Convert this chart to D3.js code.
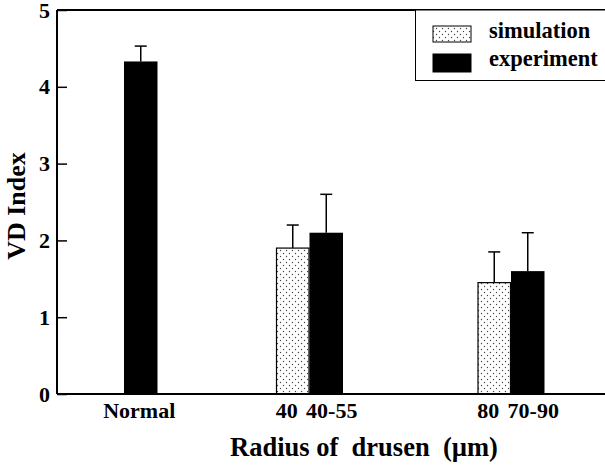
<!DOCTYPE html>
<html>
<head>
<meta charset="utf-8">
<script src="https://cdn.jsdelivr.net/npm/d3@7"></script>
<style>
  html, body { margin: 0; padding: 0; background: #fff; }
  svg { display: block; font-family: "Liberation Serif", "Times New Roman", serif; font-weight: bold; }
</style>
</head>
<body>
<svg id="chart" width="605" height="466"></svg>
<script>
// ---- data ----
const categories = ["Normal", "40", "80"];
const simLabels = ["", "40", "80"];
const expLabels = ["Normal", "40-55", "70-90"];
const series = ["simulation", "experiment"];
const simValues = [null, 1.9, 1.45];
const simErrors = [null, 0.3, 0.4];
const expValues = [4.33, 2.1, 1.6];
const expErrors = [0.2, 0.5, 0.5];
const yTicks = [0, 1, 2, 3, 4, 5];
const xTitle = "Radius of  drusen  (\u00b5m)";
const yTitle = "VD Index";

// ---- layout ----
const plot = { left: 57, top: 10, right: 640, bottom: 394 };
const svg = d3.select("#chart");

const defs = svg.append("defs");
const pat = defs.append("pattern").attr("id", "dots")
  .attr("patternUnits", "userSpaceOnUse").attr("width", 6).attr("height", 6);
pat.append("rect").attr("width", 6).attr("height", 6).attr("fill", "#fff");
pat.append("circle").attr("cx", 1.5).attr("cy", 1.5).attr("r", 0.7).attr("fill", "#444");
pat.append("circle").attr("cx", 4.5).attr("cy", 4.5).attr("r", 0.7).attr("fill", "#444");

const y = d3.scaleLinear().domain([0, 5]).range([plot.bottom, plot.top]);
// piecewise category position scale (group centre = boundary between the two bars)
const xi = d3.scaleLinear().domain([0, 1, 2]).range([124, 309.5, 511]);
const x = c => xi(categories.indexOf(c));
const barW = 33.5;
const xs = d3.scaleBand().domain(series).range([-barW, barW]);

const rows = categories.map((c, i) => ({
  cat: c, sim: simValues[i], simErr: simErrors[i], exp: expValues[i], expErr: expErrors[i],
  simLabel: simLabels[i], expLabel: expLabels[i]
}));

// bars
const g = svg.append("g");
rows.forEach(r => {
  if (r.sim != null) {
    g.append("rect")
      .attr("x", x(r.cat) + xs("simulation") + 0.5)
      .attr("y", y(r.sim))
      .attr("width", xs.bandwidth() - 1)
      .attr("height", y(0) - y(r.sim))
      .attr("fill", "url(#dots)").attr("stroke", "#000").attr("stroke-width", 1.2);
  }
  g.append("rect")
    .attr("x", x(r.cat) + xs("experiment"))
    .attr("y", y(r.exp))
    .attr("width", xs.bandwidth())
    .attr("height", y(0) - y(r.exp))
    .attr("fill", "#000");
});

// error bars
function errBar(cx, v, e) {
  g.append("line").attr("x1", cx).attr("x2", cx).attr("y1", y(v)).attr("y2", y(v + e))
    .attr("stroke", "#000").attr("stroke-width", 1.5);
  g.append("line").attr("x1", cx - 6).attr("x2", cx + 6).attr("y1", y(v + e)).attr("y2", y(v + e))
    .attr("stroke", "#000").attr("stroke-width", 1.5);
}
rows.forEach(r => {
  if (r.sim != null) errBar(x(r.cat) + xs("simulation") + xs.bandwidth() / 2, r.sim, r.simErr);
  errBar(x(r.cat) + xs("experiment") + xs.bandwidth() / 2, r.exp, r.expErr);
});

// frame lines
svg.append("line").attr("x1", plot.left).attr("x2", plot.right).attr("y1", plot.top).attr("y2", plot.top)
  .attr("stroke", "#000").attr("stroke-width", 2);
svg.append("line").attr("x1", plot.left).attr("x2", plot.right).attr("y1", plot.bottom).attr("y2", plot.bottom)
  .attr("stroke", "#000").attr("stroke-width", 2);

// y axis
const yAxis = d3.axisLeft(y).tickValues(yTicks).tickFormat(d3.format("d")).tickSize(-10).tickPadding(7);
const ya = svg.append("g").attr("transform", `translate(${plot.left},0)`).call(yAxis);
ya.attr("font-family", null).attr("font-size", 22);
ya.select(".domain").attr("stroke-width", 2).attr("d", `M0,${plot.top}V${plot.bottom}`);
ya.selectAll(".tick line").attr("stroke-width", 1.5);
ya.selectAll(".tick text").attr("fill", "#000");

// category labels
const lab = svg.append("g").attr("font-size", 22).attr("text-anchor", "middle");
rows.forEach(r => {
  if (r.simLabel) lab.append("text").attr("x", x(r.cat) + xs("simulation") + xs.bandwidth() / 2 - 6).attr("y", 418).text(r.simLabel);
  lab.append("text").attr("x", x(r.cat) + xs("experiment") + xs.bandwidth() / 2 + (r.simLabel ? 5.5 : -1.5)).attr("y", 418).text(r.expLabel);
});

// axis titles
svg.append("text").attr("x", 364).attr("y", 456).attr("text-anchor", "middle")
  .attr("font-size", 26.5).style("white-space", "pre").text(xTitle);
svg.append("text").attr("transform", "translate(25,206) rotate(-90)").attr("text-anchor", "middle")
  .attr("font-size", 26).text(yTitle);

// legend
const lg = svg.append("g");
lg.append("rect").attr("x", 415.5).attr("y", plot.top).attr("width", 220).attr("height", 70.5)
  .attr("fill", "#fff").attr("stroke", "#000").attr("stroke-width", 1);
const legendItems = [{ name: series[0], fill: "url(#dots)" }, { name: series[1], fill: "#000" }];
legendItems.forEach((d, i) => {
  const yy = 26 + i * 28;
  lg.append("rect").attr("x", 433).attr("y", yy).attr("width", 38).attr("height", 16 + i * 2)
    .attr("fill", d.fill).attr("stroke", "#000").attr("stroke-width", 1);
  lg.append("text").attr("x", 489).attr("y", 38 + i * 28).attr("font-size", 22.5).text(d.name);
});
</script>
</body>
</html>
